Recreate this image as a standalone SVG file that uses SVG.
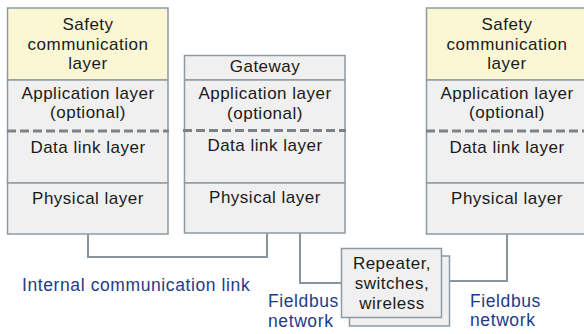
<svg xmlns="http://www.w3.org/2000/svg" width="584" height="334" viewBox="0 0 584 334">
<style>
.box{fill:#f0f0f0;stroke:#8e9aa3;stroke-width:1.5}
.yel{fill:#fbf7d4;stroke:#8e9aa3;stroke-width:1.5}
.dash{stroke:#7d8287;stroke-width:3;stroke-dasharray:9 4;fill:none}
.t{font-family:"Liberation Sans",Arial,sans-serif;font-size:17px;letter-spacing:0.5px;fill:#1a1a1a;text-anchor:middle}
.b{font-family:"Liberation Sans",Arial,sans-serif;font-size:17.5px;letter-spacing:0.6px;fill:#1f3b86}
.c{fill:none;stroke:#8a949c;stroke-width:2}
</style>
<rect width="584" height="334" fill="#ffffff"/>
<g id="connectors">
<polyline class="c" points="88,234 88,257 267,257 267,233"/>
<polyline class="c" points="300,233 300,283 342,283"/>
<polyline class="c" points="450,281 507,281 507,234"/>
</g>
<g id="left-stack">
<rect class="yel" x="7.5" y="8" width="160.5" height="72"/>
<rect class="box" x="7.5" y="80" width="160.5" height="103"/>
<rect class="box" x="7.5" y="183" width="160.5" height="51"/>
<line class="dash" x1="7" y1="131" x2="169" y2="131"/>
<text class="t" x="88" y="30">Safety</text>
<text class="t" x="88" y="50">communication</text>
<text class="t" x="88" y="69">layer</text>
<text class="t" x="88" y="99">Application layer</text>
<text class="t" x="88" y="118">(optional)</text>
<text class="t" x="88" y="153">Data link layer</text>
<text class="t" x="88" y="204">Physical layer</text>
</g>
<g id="gateway">
<rect class="box" x="184.5" y="55.5" width="160.5" height="24.5"/>
<rect class="box" x="184.5" y="80" width="160.5" height="103"/>
<rect class="box" x="184.5" y="183" width="160.5" height="50"/>
<line class="dash" x1="183" y1="130.5" x2="346" y2="130.5"/>
<text class="t" x="265" y="72">Gateway</text>
<text class="t" x="265" y="99">Application layer</text>
<text class="t" x="265" y="119">(optional)</text>
<text class="t" x="265" y="151">Data link layer</text>
<text class="t" x="265" y="203">Physical layer</text>
</g>
<g id="right-stack">
<rect class="yel" x="426.5" y="8" width="160.5" height="72"/>
<rect class="box" x="426.5" y="80" width="160.5" height="103"/>
<rect class="box" x="426.5" y="183" width="160.5" height="51"/>
<line class="dash" x1="426" y1="131" x2="590" y2="131"/>
<text class="t" x="507" y="30">Safety</text>
<text class="t" x="507" y="50">communication</text>
<text class="t" x="507" y="69">layer</text>
<text class="t" x="507" y="99">Application layer</text>
<text class="t" x="507" y="118">(optional)</text>
<text class="t" x="507" y="153">Data link layer</text>
<text class="t" x="507" y="204">Physical layer</text>
</g>
<g id="repeater">
<rect class="box" x="349.5" y="256" width="100" height="70"/>
<rect class="box" x="341.5" y="248.5" width="100" height="69"/>
<text class="t" x="392" y="269">Repeater,</text>
<text class="t" x="392" y="289">switches,</text>
<text class="t" x="392" y="309">wireless</text>
</g>
<g id="labels">
<text class="b" x="22" y="291">Internal communication link</text>
<text class="b" x="268" y="307">Fieldbus</text>
<text class="b" x="268" y="327">network</text>
<text class="b" x="470" y="307">Fieldbus</text>
<text class="b" x="470" y="326">network</text>
</g>
</svg>
